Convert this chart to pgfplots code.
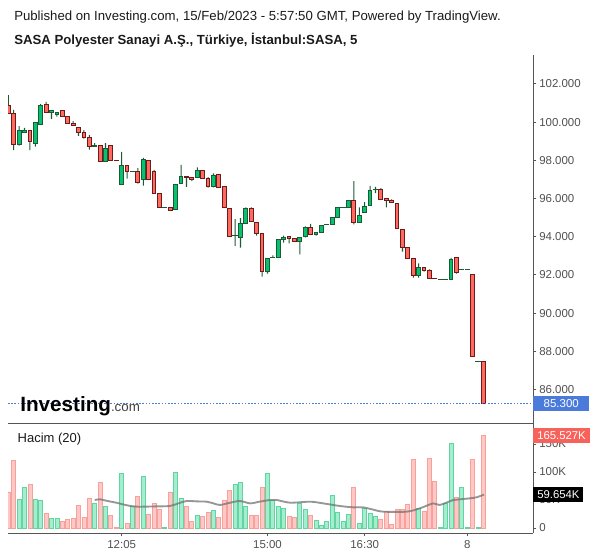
\documentclass[border=0pt]{standalone}
\usepackage{pgfplots}
\pgfplotsset{compat=1.18}
\usepackage{pgfplotstable}
\usepackage{fontspec}
\setmainfont{Liberation Sans}

\definecolor{upfill}{HTML}{06C270}
\definecolor{upline}{HTML}{1B5A33}
\definecolor{dnfill}{HTML}{FF6A5E}
\definecolor{dnline}{HTML}{6E1A1A}
\definecolor{vup}{HTML}{A6ECCF}
\definecolor{vupl}{HTML}{5FD6A2}
\definecolor{vdn}{HTML}{FFC8C6}
\definecolor{vdnl}{HTML}{F7A19B}
\definecolor{axisgray}{HTML}{555555}
\definecolor{ticktext}{HTML}{505050}
\definecolor{lastblue}{HTML}{4A7BDA}
\definecolor{volred}{HTML}{F7625B}
\definecolor{titletext}{HTML}{1A1A1A}

% green (up) candles: index open high low close
\pgfplotstableread{
i o h l c
2 98.84 99.80 98.77 99.54
3 99.47 99.70 99.47 99.58
5 98.87 99.96 98.72 99.96
6 99.89 100.95 99.89 100.85
8 100.52 100.62 100.18 100.62
9 100.41 100.52 100.29 100.52
16 98.76 98.90 98.76 98.76
18 97.95 98.91 97.95 98.63
21 96.75 98.44 96.75 97.71
23 97.43 97.43 97.43 97.43
25 97.01 98.13 96.68 98.06
29 95.54 95.54 95.54 95.54
31 95.44 96.75 95.44 96.75
32 96.80 97.76 96.80 97.17
35 97.12 97.64 97.12 97.48
38 96.64 97.32 96.59 97.22
42 94.06 94.93 93.53 94.06
43 93.97 94.98 93.43 94.71
44 94.71 95.54 94.71 95.49
48 92.19 92.87 92.07 92.87
49 92.91 93.03 92.91 92.91
50 92.93 93.87 92.93 93.87
51 93.87 94.06 93.69 93.97
54 93.76 93.97 93.08 93.97
55 94.03 94.55 93.97 94.50
57 94.13 94.24 94.06 94.24
58 94.24 94.60 94.24 94.60
59 94.65 94.65 94.65 94.65
60 94.65 95.02 94.65 95.02
61 95.02 95.54 95.02 95.54
62 95.52 95.52 95.52 95.52
63 95.54 95.91 95.54 95.91
65 94.76 95.54 94.76 95.13
66 95.28 95.82 95.28 95.60
67 95.65 96.66 95.65 96.43
68 96.49 96.61 96.29 96.49
76 91.96 92.61 91.86 92.40
80 91.78 91.78 91.78 91.78
81 91.78 91.78 91.78 91.78
82 91.78 92.89 91.78 92.82
84 92.30 92.30 92.30 92.30
85 92.30 92.30 92.30 92.30
87 87.48 87.48 87.48 87.48
}\upc

% red (down) candles: index open high low close
\pgfplotstableread{
i o h l c
0 100.85 101.42 100.43 100.43
1 100.43 100.64 98.54 98.84
4 99.58 99.58 98.54 98.98
7 100.94 101.06 100.52 100.52
10 100.62 100.62 100.31 100.31
11 100.31 100.31 99.94 99.94
12 99.94 100.05 99.84 99.84
13 99.73 99.73 99.29 99.45
14 99.47 99.58 99.14 99.19
15 99.21 99.33 98.56 98.74
17 98.79 98.79 97.95 97.95
19 98.79 98.79 98.01 98.01
20 97.98 97.98 97.98 97.98
22 97.71 97.71 97.04 97.43
24 97.43 97.60 96.78 96.83
26 98.01 98.01 97.01 97.01
27 97.43 97.50 96.28 96.28
28 96.28 96.28 95.54 95.54
30 95.54 95.54 95.39 95.39
33 97.17 97.17 96.62 97.12
34 97.12 97.12 96.91 97.01
36 97.48 97.48 97.06 97.06
37 97.06 97.12 96.57 96.64
39 97.27 97.27 96.59 96.59
40 96.64 96.64 95.54 95.54
41 95.49 95.49 94.03 94.03
45 95.49 95.54 94.81 94.81
46 94.76 94.76 94.06 94.18
47 94.18 94.18 91.91 92.19
52 94.03 94.03 93.66 93.92
53 93.92 93.92 93.76 93.76
56 94.50 94.67 94.13 94.13
64 95.91 96.92 94.65 94.76
69 96.49 96.55 95.96 95.96
70 96.02 96.02 95.54 95.91
71 95.91 95.96 95.81 95.81
72 95.75 95.75 94.45 94.45
73 94.39 94.39 93.22 93.45
74 93.45 93.45 92.87 92.87
75 92.87 92.87 91.86 91.96
77 92.40 92.40 92.17 92.25
78 92.25 92.30 91.83 91.83
79 91.81 91.81 91.81 91.81
83 92.93 92.93 92.07 92.14
86 92.04 92.04 87.74 87.74
88 87.48 87.48 85.28 85.28
}\dnc

% volume (thousands), up bars
\pgfplotstableread{
i v
2 51.2
3 72.6
5 51.2
6 49.4
8 17.3
9 17.3
16 44.0
18 38.7
21 97.6
23 38.7
25 92.3
29 0.5
31 99.4
32 53.0
35 22.6
38 31.5
42 78.0
43 81.5
44 38.7
48 97.6
49 49.4
50 38.7
51 35.1
54 44.0
55 33.3
57 13.7
58 4.8
59 11.9
60 58.3
61 28.0
62 11.9
63 24.4
65 8.3
66 35.1
67 26.2
68 20.8
76 35.1
80 0.6
81 44.0
82 151.2
84 72.6
85 0.5
87 0.5
}\vupt

% volume (thousands), down bars
\pgfplotstableread{
i v
0 64.3
1 120.8
4 78.0
7 26.2
10 11.9
11 15.5
12 17.3
13 40.5
14 19.0
15 53.0
17 82.1
19 22.6
20 0.6
22 8.3
24 56.5
26 24.4
27 44.0
28 33.3
30 64.3
33 38.7
34 11.9
36 20.8
37 28.0
39 19.0
40 49.4
41 67.3
45 22.6
46 22.6
47 72.6
52 20.8
53 19.0
56 22.6
64 72.6
69 15.5
70 29.8
71 6.5
72 33.3
73 33.3
74 42.3
75 122.6
77 29.8
78 124.4
79 83.3
83 54.8
86 122.6
88 165.5
}\vdnt

% volume moving average (20)
\pgfplotstableread{
i v
16 50.0
17 51.2
18.5 48.0
20 45.2
22 40.5
23.8 38.1
27 38.5
29.9 39.3
31.5 44.0
33 48.2
35 47.5
36.7 47.0
38 44.0
39.2 41.1
41 45.0
42.9 48.2
44.8 44.0
46.5 47.0
48.5 50.0
49.7 50.0
52.2 45.2
55.9 47.0
58.3 44.0
61.4 39.3
63.9 36.9
65.7 36.9
67.5 33.0
69.4 29.2
73.8 29.2
76.2 35.1
78.7 44.0
79.9 41.1
82.4 50.0
83.6 51.2
85.5 53.0
86.7 54.8
88.1 59.65
}\smat

\pgfplotsset{
  pricepane/.style={scale only axis, width=393.75pt, height=276pt,
    xmin=-0.056, xmax=97.17, ymin=84.251, ymax=103.518,
    at={(6pt,101.25pt)}, anchor=south west},
  volpane/.style={scale only axis, width=393.75pt, height=82.5pt,
    xmin=-0.056, xmax=97.17, ymin=-8.93, ymax=187.5,
    at={(6pt,18.75pt)}, anchor=south west},
  ticklab/.style={font=\fontsize{8.6}{10}\selectfont, text=ticktext},
}

\begin{document}
\begin{tikzpicture}
\path[use as bounding box] (0,0) rectangle (450pt,418.5pt);

% titles
\node[anchor=west, inner sep=0pt, text=titletext, font=\fontsize{9.9}{12}\selectfont] at (10.5pt,405.75pt)
  {Published on Investing.com, 15/Feb/2023 - 5:57:50 GMT, Powered by TradingView.};
\node[anchor=west, inner sep=0pt, text=titletext, font=\fontsize{9.9}{12}\selectfont\bfseries] at (10.5pt,388.5pt)
  {SASA Polyester Sanayi A.Ş., Türkiye, İstanbul:SASA, 5};

% wicks (up)
\begin{axis}[pricepane, hide axis, ybar stacked, bar width=0.8pt]
\addplot[draw=none, fill=none] table[x=i, y=l] {\upc};
\addplot[draw=none, fill=upline] table[x=i, y expr=\thisrow{h}-\thisrow{l}] {\upc};
\end{axis}
% wicks (down)
\begin{axis}[pricepane, hide axis, ybar stacked, bar width=0.8pt]
\addplot[draw=none, fill=none] table[x=i, y=l] {\dnc};
\addplot[draw=none, fill=upline] table[x=i, y expr=\thisrow{h}-\thisrow{l}] {\dnc};
\end{axis}
% bodies (up)
\begin{axis}[pricepane, hide axis, ybar stacked, bar width=2.85pt]
\addplot[draw=none, fill=none] table[x=i, y=o] {\upc};
\addplot[fill=upfill, draw=upline, line width=0.75pt] table[x=i, y expr=\thisrow{c}-\thisrow{o}] {\upc};
\end{axis}
% bodies (down)
\begin{axis}[pricepane, hide axis, ybar stacked, bar width=2.85pt]
\addplot[draw=none, fill=none] table[x=i, y=c] {\dnc};
\addplot[fill=dnfill, draw=dnline, line width=0.75pt] table[x=i, y expr=\thisrow{o}-\thisrow{c}] {\dnc};
\end{axis}

% price pane frame, ticks, dojis, last price
\begin{axis}[pricepane, clip mode=individual,
  axis x line*=bottom, axis y line*=right,
  axis line style={axisgray, line width=0.75pt},
  xtick=\empty, ytick={86,88,...,102}, yticklabel pos=right,
  tick align=outside, major tick length=2.5pt,
  tick style={axisgray, line width=0.75pt},
  yticklabel style={ticklab, anchor=west, inner sep=0pt, xshift=2pt},
  yticklabel={\pgfmathprintnumber[fixed, fixed zerofill, precision=3, 1000 sep={}, assume math mode=true]{\tick}}]
% doji candles (open = close) drawn as short flat bars
\addplot[upline, only marks, mark=-, mark size=1.95pt, mark options={line width=1pt},
  restrict expr to domain={\thisrow{c}-\thisrow{o}}{-0.001:0.001}] table[x=i, y=o] {\upc};
\addplot[dnline, only marks, mark=-, mark size=1.95pt, mark options={line width=1pt},
  restrict expr to domain={\thisrow{c}-\thisrow{o}}{-0.001:0.001}] table[x=i, y=o] {\dnc};
\addplot[lastblue, line width=0.75pt, dash pattern=on 1.2pt off 1.2pt] coordinates {(-0.056,85.28) (97.17,85.28)};
\node[anchor=west, fill=lastblue, text=white, font=\fontsize{8.6}{10}\selectfont, inner xsep=3pt, inner ysep=0pt, minimum height=11pt, minimum width=42pt, align=left] at (axis cs:97.17,85.28) {85.300\hfill};
\node[anchor=base west, inner sep=0pt] at (rel axis cs:0.0229,0.0315)
  {{\fontsize{15.5}{16}\selectfont\bfseries Investing}{\fontsize{10}{10}\selectfont\color{black!75}.com}};
\end{axis}

% volume pane
\begin{axis}[volpane, clip mode=individual,
  axis x line*=bottom, axis y line*=right,
  axis line style={axisgray, line width=0.75pt},
  xtick={21,48,66,85}, xticklabels={12:05,15:00,16:30,8},
  ytick={0,50,100,150}, yticklabels={0,50K,100K,150K}, yticklabel pos=right,
  tick align=outside, major tick length=2.5pt,
  tick style={axisgray, line width=0.75pt},
  yticklabel style={ticklab, anchor=west, inner sep=0pt, xshift=2pt},
  xticklabel style={ticklab, inner sep=0pt, yshift=-3pt},
  ]
\addplot[ybar, bar shift=0pt, bar width=3pt, fill=vdn, draw=vdnl, line width=0.6pt] table[x=i, y=v] {\vdnt};
\addplot[ybar, bar shift=0pt, bar width=3pt, fill=vup, draw=vupl, line width=0.6pt] table[x=i, y=v] {\vupt};
\addplot[smooth, black!55, opacity=0.75, line width=1.4pt] table[x=i, y=v] {\smat};
\node[anchor=west, inner sep=0pt, font=\fontsize{9.75}{11}\selectfont, text=titletext] at (rel axis cs:0.018,0.855) {Hacim (20)};
\node[anchor=west, fill=volred, text=white, font=\fontsize{8.5}{10}\selectfont, inner xsep=3pt, inner ysep=0pt, minimum height=11pt] at (axis cs:97.17,165.5) {165.527K};
\node[anchor=west, fill=black, text=white, font=\fontsize{8.5}{10}\selectfont, inner xsep=3pt, inner ysep=0pt, minimum height=11pt] at (axis cs:97.17,59.65) {59.654K};
\end{axis}
\end{tikzpicture}
\end{document}
